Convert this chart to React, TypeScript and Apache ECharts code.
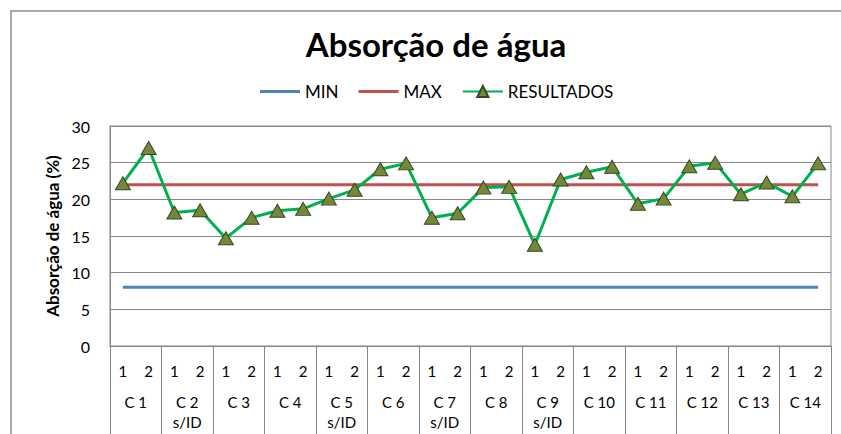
import React, { useEffect, useRef } from "react";
import * as echarts from "echarts";

const TITLE = "Absorção de água";
const Y_AXIS_NAME = "Absorção de água (%)";
const GROUPS = ["C 1", "C 2\ns/ID", "C 3", "C 4", "C 5\ns/ID", "C 6", "C 7\ns/ID", "C 8", "C 9\ns/ID", "C 10", "C 11", "C 12", "C 13", "C 14"];
const SUB_LABELS = ["1", "2"];
const RESULTADOS = [22.2, 27.0, 18.2, 18.5, 14.7, 17.5, 18.45, 18.7, 20.1, 21.3, 24.1, 24.9, 17.5, 18.1,
  21.6, 21.7, 13.8, 22.7, 23.7, 24.45, 19.4, 20.1, 24.5, 25.0, 20.7, 22.3, 20.4, 24.9];
const MIN_VALUE = 8;
const MAX_VALUE = 22;
const Y_TICKS = { min: 0, max: 30, interval: 5 };

const FONT = "Lato, 'Open Sans', sans-serif";
const LINE_ICON = "path://M0,0 H40 V3 H0 Z";

export default function App() {
  const ref = useRef<HTMLDivElement>(null);
  useEffect(() => {
    if (!ref.current) return;
    const chart = echarts.init(ref.current, undefined, { renderer: "svg" });
    const cats: string[] = [];
    GROUPS.forEach(() => SUB_LABELS.forEach((s) => cats.push(s)));
    const minData = cats.map(() => MIN_VALUE);
    const maxData = cats.map(() => MAX_VALUE);
    const gray = "#868686";
    chart.setOption({
      animation: false,
      backgroundColor: "#fff",
      textStyle: { fontFamily: FONT },
      title: {
        text: TITLE,
        left: 431,
        textAlign: "center",
        top: 22,
        textStyle: { fontFamily: FONT, fontSize: 33, fontWeight: "bold", color: "#000" },
      },
      legend: {
        left: 255,
        top: 78,
        itemWidth: 40,
        itemHeight: 14,
        itemGap: 20,
        symbolKeepAspect: true,
        textStyle: { fontFamily: FONT, fontSize: 17, color: "#000" },
        data: [
          { name: "MIN", icon: LINE_ICON },
          { name: "MAX", icon: LINE_ICON },
          { name: "RESULTADOS" },
        ],
      },
      graphic: [
        {
          type: "rect",
          shape: { x: 11, y: 11, width: 900, height: 500 },
          style: { fill: "none", stroke: "#8c8c8c", lineWidth: 1.5 },
          silent: true,
        },
      ],
      grid: {
        left: 110,
        right: 10,
        top: 126,
        bottom: 88,
        show: true,
        borderColor: gray,
        borderWidth: 1,
      },
      xAxis: [
        {
          type: "category",
          data: cats,
          boundaryGap: true,
          axisLine: { show: true, lineStyle: { color: gray } },
          axisTick: { show: false },
          axisLabel: { interval: 0, margin: 17, fontSize: 15, color: "#000", fontFamily: FONT },
          splitLine: { show: false },
        },
        {
          type: "category",
          data: GROUPS,
          position: "bottom",
          boundaryGap: true,
          axisLine: { show: false },
          axisTick: { show: true, interval: 0, length: 88, lineStyle: { color: gray } },
          axisLabel: { interval: 0, margin: 46, fontSize: 15, lineHeight: 20, color: "#000", fontFamily: FONT },
          splitLine: { show: false },
        },
      ],
      yAxis: {
        type: "value",
        min: Y_TICKS.min,
        max: Y_TICKS.max,
        interval: Y_TICKS.interval,
        name: Y_AXIS_NAME,
        nameLocation: "middle",
        nameGap: 48,
        nameTextStyle: { fontFamily: FONT, fontSize: 17, fontWeight: "bold", color: "#000" },
        axisLine: { show: true, lineStyle: { color: gray } },
        axisTick: { show: false },
        axisLabel: { margin: 20, fontSize: 16, color: "#000", fontFamily: FONT },
        splitLine: { show: true, lineStyle: { color: gray } },
      },
      series: [
        {
          name: "MIN",
          type: "line",
          data: minData,
          showSymbol: false,
          symbol: "none",
          lineStyle: { color: "#4F81BD", width: 3 },
          itemStyle: { color: "#4F81BD" },
        },
        {
          name: "MAX",
          type: "line",
          data: maxData,
          showSymbol: false,
          symbol: "none",
          lineStyle: { color: "#C0504D", width: 3 },
          itemStyle: { color: "#C0504D" },
        },
        {
          name: "RESULTADOS",
          type: "line",
          data: RESULTADOS,
          symbol: "triangle",
          symbolSize: [15, 13],
          lineStyle: { color: "#00B050", width: 3 },
          itemStyle: { color: "#76873A", borderColor: "#2E4A1E", borderWidth: 1 },
        },
      ],
    });
    return () => chart.dispose();
  }, []);
  return (
    <div
      ref={ref}
      style={{ position: "fixed", left: 0, top: 0, width: 841, height: 434 }}
    />
  );
}
